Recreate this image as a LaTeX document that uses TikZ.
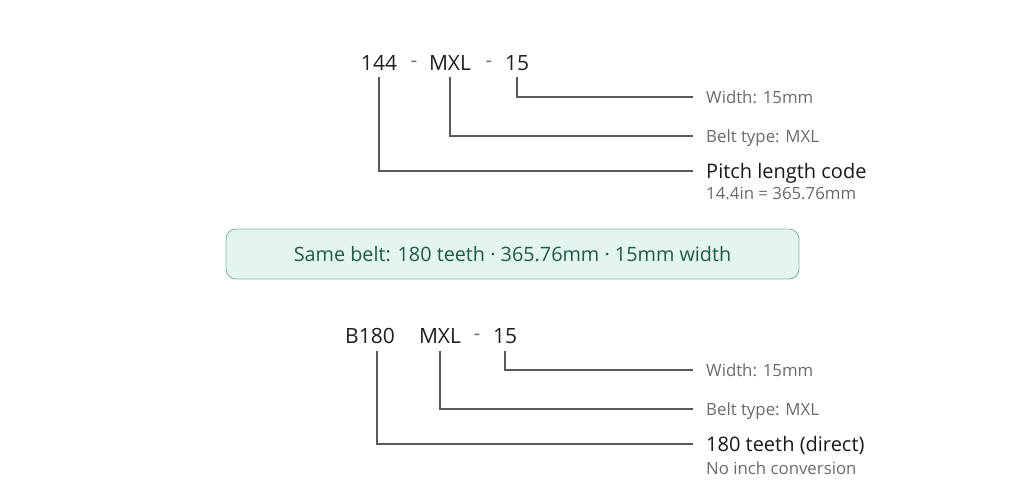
\documentclass[tikz,border=0pt]{standalone}
\usepackage{fontspec}
\setmainfont{Open Sans}
\usetikzlibrary{positioning}
\definecolor{leadgray}{HTML}{5A5A5A}
\definecolor{notegray}{HTML}{6A6A6A}
\definecolor{mintfill}{HTML}{E3F5EE}
\definecolor{mintdraw}{HTML}{7DBBA3}
\definecolor{minttext}{HTML}{1E5C47}
\begin{document}
\begin{tikzpicture}[x=1pt,y=-1pt,
            code/.style = {inner sep=0pt,text=black!88,
                font=\fontsize{21}{24}\selectfont},
            sep/.style = {code,text=black!55},
            lbl/.style = {anchor=west,inner xsep=13pt,inner ysep=0pt,
                text height=12pt,text depth=0pt,
                text=notegray,font=\fontsize{16.8}{20}\selectfont},
            head/.style = {lbl,text height=14.3pt,text=black!90,
                font=\fontsize{20}{24}\selectfont},
            note/.style = {anchor=west,inner sep=0pt,text=notegray,
                font=\fontsize{16.8}{20}\selectfont},
            banner/.style = {draw=mintdraw,fill=mintfill,rounded corners=10pt,
                line width=0.9pt,minimum width=573pt,minimum height=50pt,
                text=minttext,font=\fontsize{19.8}{24}\selectfont},
            lead/.style = {draw=leadgray,line width=1.1pt}]
            \useasboundingbox (0,0) rectangle (1024,493);
            % old style code
            \node[code](c144) at (379,63) {144};
            \node[sep](d1) at (414,64) {-};
            \node[code](cmxl) at (450,63) {MXL};
            \node[sep](d2) at (489,64) {-};
            \node[code](c15) at (517,63) {15};
            \node[lbl](wid) at (693,97) {Width: 15mm};
            \node[lbl](typ) at (693,136) {Belt type: MXL};
            \node[head](pitch) at (693,171) {Pitch length code};
            \node[note](conv) at (706,193) {14.4in = 365.76mm};
            \draw[lead] ([yshift=-6pt]c15.south) |- (wid.west);
            \draw[lead] ([yshift=-6pt]cmxl.south) |- (typ.west);
            \draw[lead] ([yshift=-6pt]c144.south) |- (pitch.west);
            % summary
            \node[banner](same) at (512.5,254)
                {Same belt: 180 teeth · 365.76mm · 15mm width};
            % new style code
            \node[code](cb180) at (370,336) {B180};
            \node[code](cmxlb) at (440,336) {MXL};
            \node[sep](d3) at (477,337) {-};
            \node[code](c15b) at (505,336) {15};
            \node[lbl](widb) at (693,370) {Width: 15mm};
            \node[lbl](typb) at (693,409) {Belt type: MXL};
            \node[head](teeth) at (693,444) {180 teeth (direct)};
            \node[note](noinch) at (706,468) {No inch conversion};
            \draw[lead] ([yshift=-7pt]c15b.south) |- (widb.west);
            \draw[lead] ([yshift=-7pt]cmxlb.south) |- (typb.west);
            \draw[lead] ([xshift=7pt,yshift=-7pt]cb180.south) |- (teeth.west);
\end{tikzpicture}
\end{document}
